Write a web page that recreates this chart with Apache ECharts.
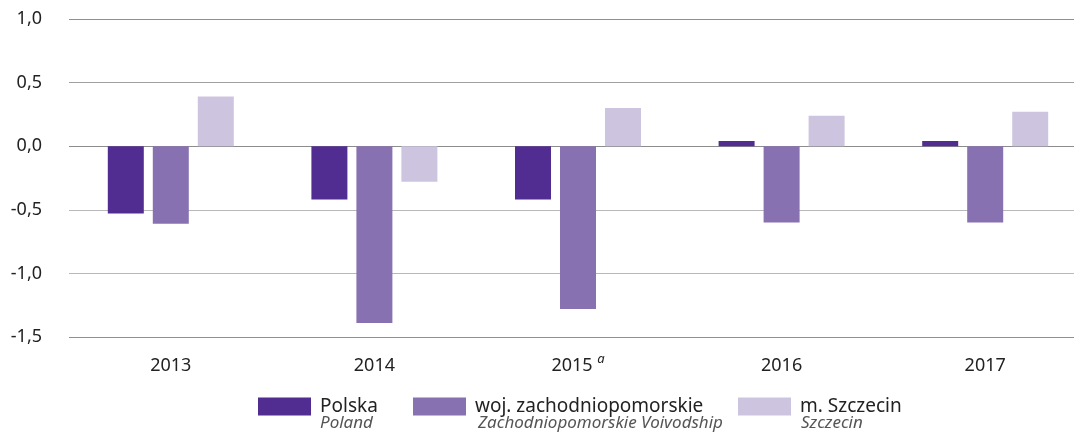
<!DOCTYPE html>
<html>
<head>
<meta charset="utf-8">
<script src="https://cdn.jsdelivr.net/npm/echarts@6/dist/echarts.min.js"></script>
<style>
  html, body { margin: 0; padding: 0; background: #fff; }
  #chart { width: 1074px; height: 435px; }
</style>
</head>
<body>
<div id="chart"></div>
<script>
// dane z wykresu
var years = ['2013', '2014', '2015', '2016', '2017'];
var polska = [-0.53, -0.42, -0.42, 0.04, 0.04];
var zachodniopomorskie = [-0.61, -1.39, -1.28, -0.60, -0.60];
var szczecin = [0.39, -0.28, 0.30, 0.24, 0.27];
var seriesNames = ['Polska', 'woj. zachodniopomorskie', 'm. Szczecin'];
var seriesNamesEn = ['Poland', 'Zachodniopomorskie Voivodship', 'Szczecin'];
var colors = ['#522d91', '#8771b1', '#cdc5e0'];

var font = 'Noto Sans';
var myChart = echarts.init(document.getElementById('chart'));

function bar(name, data, color) {
  return {
    name: name,
    type: 'bar',
    data: data,
    barWidth: 36,
    barGap: '25%',
    itemStyle: { color: color }
  };
}

// legenda - osobno dla kazdej serii, zeby trzymac pozycje
var legendLeft = [258, 413, 738];
var legends = seriesNames.map(function (n, i) {
  return {
    data: [n],
    left: legendLeft[i],
    top: 397,
    padding: 0,
    itemWidth: 53,
    itemHeight: 18,
    icon: 'rect',
    selectedMode: false,
    textStyle: { fontFamily: font, fontSize: 19, color: '#222', padding: [0, 0, 0, 4] }
  };
});
var subLeft = [320, 478, 801];
var subtitles = seriesNamesEn.map(function (t, i) {
  return {
    type: 'text',
    left: subLeft[i],
    top: 415,
    style: { text: t, fill: '#555', font: 'italic 17px "Noto Sans"' }
  };
});

var options = {
  animation: false,
  // siatka wychodzi poza prawa krawedz jak w oryginale
  grid: { left: 69, right: -13, top: 19, bottom: 98, outerBoundsMode: 'none' },
  legend: legends,
  graphic: subtitles,
  xAxis: {
    type: 'category',
    data: years,
    axisLine: { show: false },
    axisTick: { show: false },
    axisLabel: {
      margin: 15,
      fontFamily: font,
      fontSize: 18,
      lineHeight: 28,
      color: '#222',
      formatter: function (v) {
        return v === '2015' ? v + ' {sup|a}' : v;
      },
      rich: {
        sup: { fontFamily: font, fontStyle: 'italic', fontSize: 13, color: '#222', padding: [0, 0, 13, 0] }
      }
    }
  },
  yAxis: {
    type: 'value',
    min: -1.5,
    max: 1,
    interval: 0.5,
    axisLine: { show: false },
    axisTick: { show: false },
    axisLabel: {
      margin: 27,
      fontFamily: font,
      fontSize: 18,
      color: '#222',
      formatter: function (v) { return v.toFixed(1).replace('.', ','); }
    },
    splitLine: {
      lineStyle: { color: ['#909090', '#b8b8b8', '#b8b8b8', '#8c8c8c', '#a0a0a0', '#909090'], width: 1 }
    }
  },
  series: [
    bar(seriesNames[0], polska, colors[0]),
    bar(seriesNames[1], zachodniopomorskie, colors[1]),
    bar(seriesNames[2], szczecin, colors[2])
  ]
};
myChart.setOption(options);
</script>
</body>
</html>
